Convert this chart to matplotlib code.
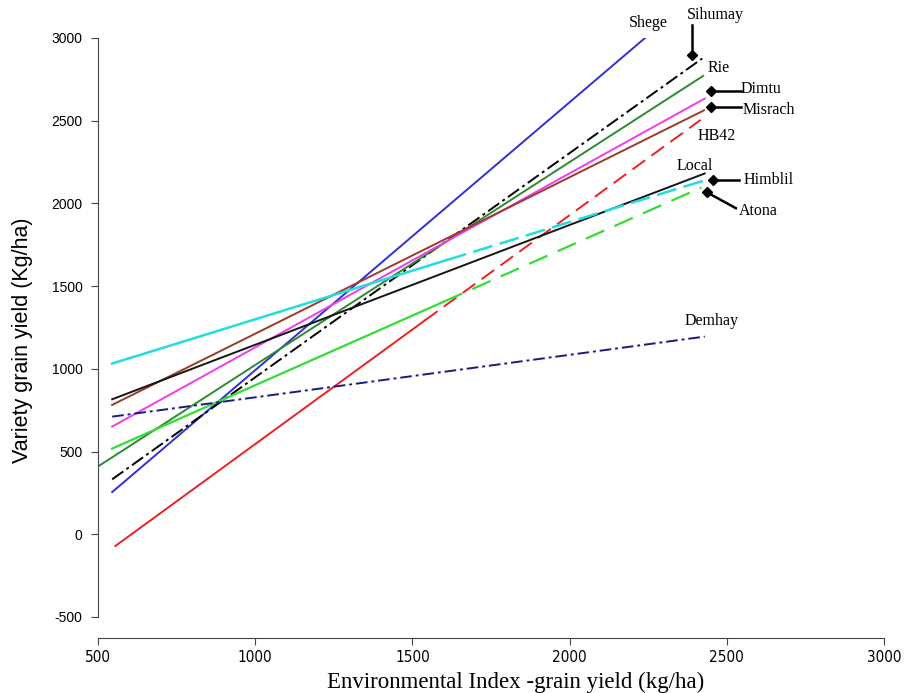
import matplotlib
matplotlib.use("Agg")
import matplotlib.pyplot as plt

plt.rcParams["axes.unicode_minus"] = False

# regression lines: x points (environmental index) and y points (variety yield)
# lines with three points change from solid to dashed at the middle point
shege_x = [545, 2240]
shege_y = [255, 3000]
sihumay_x = [545, 2422]
sihumay_y = [332, 2876]
rie_x = [500, 2425]
rie_y = [410, 2771]
dimtu_x = [545, 2430]
dimtu_y = [651, 2634]
misrach_x = [545, 2428]
misrach_y = [782, 2563]
hb42_x = [555, 1540, 2417]
hb42_y = [-71, 1293, 2505]
local_x = [545, 2430]
local_y = [816, 2181]
himblil_x = [545, 1610, 2425]
himblil_y = [1032, 1658, 2137]
atona_x = [545, 1600, 2419]
atona_y = [518, 1406, 2096]
demhay_x = [545, 2430]
demhay_y = [711, 1195]

# variety names written beside the line ends
names = ["Shege", "Sihumay", "Rie", "Dimtu", "Misrach", "HB42", "Local", "Himblil", "Atona", "Demhay"]
name_x = [2252, 2465, 2475, 2608, 2634, 2468, 2398, 2634, 2599, 2452]
name_y = [3090, 3138, 2817, 2690, 2563, 2406, 2225, 2140, 1953, 1288]

# pointer lines ending in a diamond
ptr_x0 = [2390, 2545, 2545, 2538, 2529]
ptr_y0 = [3080, 2680, 2585, 2140, 1971]
ptr_x1 = [2390, 2451, 2451, 2455, 2436]
ptr_y1 = [2900, 2680, 2585, 2140, 2068]

fig = plt.figure(figsize=(9.11, 6.93), dpi=100)
ax = fig.add_axes([0.1076, 0.1097, 0.8627, 0.8355])

lw = 1.4
ax.plot(shege_x, shege_y, color="#3030d8", lw=lw)
ax.plot(sihumay_x, sihumay_y, color="black", lw=lw, dashes=(7, 2, 1.5, 2))
ax.plot(rie_x, rie_y, color="#2f8a2f", lw=lw)
ax.plot(dimtu_x, dimtu_y, color="#ee3cee", lw=lw)
ax.plot(misrach_x, misrach_y, color="#9a3b2e", lw=lw)
ax.plot(hb42_x[:2], hb42_y[:2], color="#ee2020", lw=lw)
ax.plot(hb42_x[1:], hb42_y[1:], color="#ee2020", lw=lw, dashes=(8, 4))
ax.plot(local_x, local_y, color="#151515", lw=lw)
ax.plot(himblil_x[:2], himblil_y[:2], color="#22dddd", lw=lw + 0.4)
ax.plot(himblil_x[1:], himblil_y[1:], color="#22dddd", lw=lw + 0.4, dashes=(8, 3))
ax.plot(atona_x[:2], atona_y[:2], color="#33dd33", lw=lw + 0.2)
ax.plot(atona_x[1:], atona_y[1:], color="#33dd33", lw=lw + 0.2, dashes=(9, 5))
ax.plot(demhay_x, demhay_y, color="#1a1a80", lw=lw, dashes=(6, 2, 1.5, 2))

for x0, y0, x1, y1 in zip(ptr_x0, ptr_y0, ptr_x1, ptr_y1):
    ax.plot([x0, x1], [y0, y1], color="black", lw=1.8, clip_on=False)
    ax.plot(x1, y1, marker="D", ms=5, color="black", clip_on=False)

for n, x, y in zip(names, name_x, name_y):
    ax.text(x, y, n, family="Liberation Serif", fontsize=11.5, ha="center", va="center", clip_on=False)

ax.set_xlim(500, 3000)
ax.set_ylim(-500, 3000)
ax.set_xticks([500, 1000, 1500, 2000, 2500, 3000])
ax.set_yticks([-500, 0, 500, 1000, 1500, 2000, 2500, 3000])

for s in ["top", "right"]:
    ax.spines[s].set_visible(False)
ax.spines["bottom"].set_position(("outward", 15))
ax.spines["left"].set_color("#444444")
ax.spines["bottom"].set_color("#444444")
ax.tick_params(direction="out", length=5, color="#444444")
ax.tick_params(axis="y", labelsize=10, pad=6)
ax.tick_params(axis="x", labelsize=11, pad=4)
for t in ax.get_yticklabels():
    t.set_family("Liberation Sans")
for t in ax.get_xticklabels():
    t.set_family("DejaVu Sans")
    t.set_fontstretch("condensed")

fig.text(0.025, 0.509, "Variety grain yield (Kg/ha)", rotation=90, family="Liberation Sans",
         fontsize=15.5, ha="center", va="center")
fig.text(0.566, 0.016, "Environmental Index -grain yield (kg/ha)", family="Liberation Serif",
         fontsize=16.5, ha="center", va="center")

fig.savefig("out.png", dpi=100)
